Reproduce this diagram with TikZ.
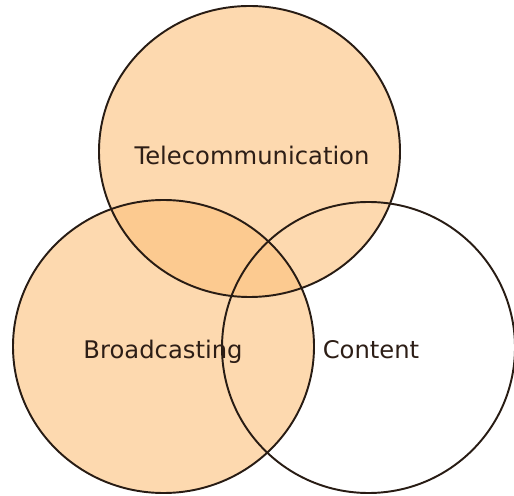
\documentclass[tikz,border=0pt]{standalone}
\usepackage{fontspec}
\setmainfont{DejaVu Sans}
\usepackage{tikz}
\usetikzlibrary{shapes.geometric}
\pgfdeclarelayer{background}
\pgfdeclarelayer{foreground}
\pgfsetlayers{background,main,foreground}
\definecolor{peach}{RGB}{252,193,125}
\definecolor{rim}{RGB}{40,28,20}
\definecolor{ink}{RGB}{45,30,22}

\begin{document}
\begin{tikzpicture}[
    set/.style={ellipse, inner sep=0pt, outer sep=0pt, draw=rim, line width=1.1pt},
    shaded/.style={fill=peach, fill opacity=0.61},
    lbl/.style={anchor=base, text=ink, font=\fontsize{13.8}{16}\selectfont}]
  \useasboundingbox (0,0) rectangle (10.28,9.9);
  % the three sets
  \node[set, minimum width=6.02cm, minimum height=5.82cm] (tel) at (4.99,6.87) {};
  \node[set, minimum width=6.02cm, minimum height=5.86cm] (bro) at (3.27,2.97) {};
  \node[set, minimum width=5.86cm, minimum height=5.82cm] (con) at (7.37,2.95) {};
  \begin{pgfonlayer}{background}
    \fill[shaded] (tel.center) ellipse [x radius=3.01, y radius=2.91];
    \fill[shaded] (bro.center) ellipse [x radius=3.01, y radius=2.93];
  \end{pgfonlayer}
  % names
  \node[lbl] (tell) at (5.04,6.60) {Telecommunication};
  \node[lbl] (brol) at (3.26,2.73) {Broadcasting};
  \node[lbl] (conl) at (7.42,2.74) {Content};
\end{tikzpicture}
\end{document}
